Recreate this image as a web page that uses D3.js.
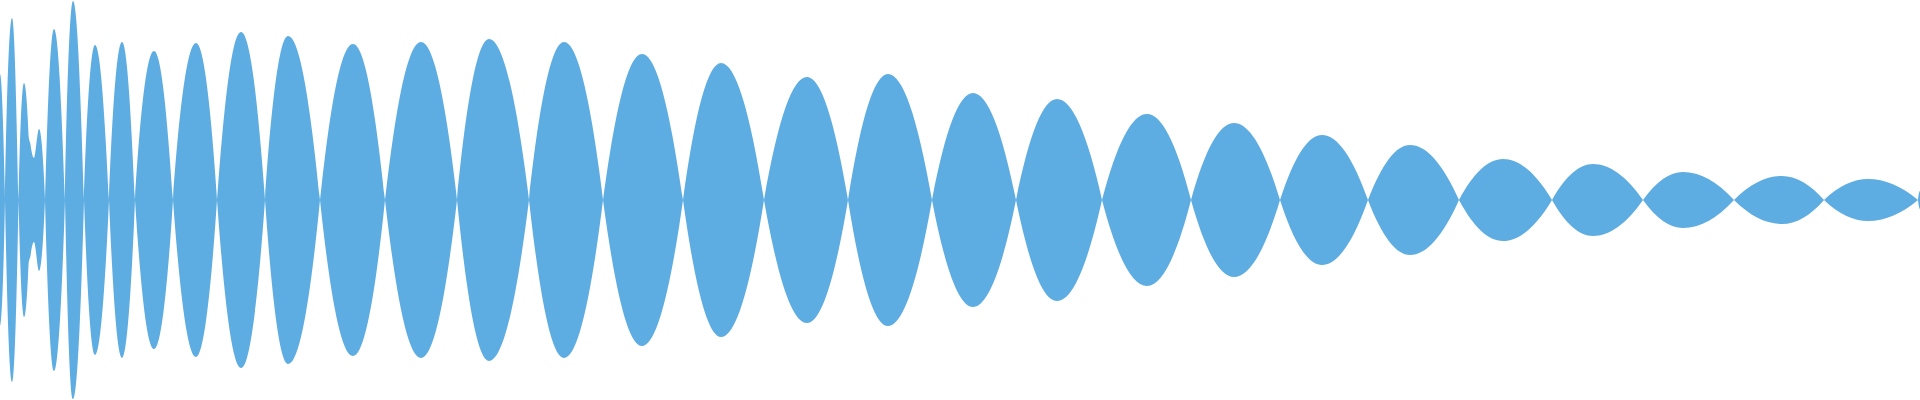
<!DOCTYPE html>
<html>
<head>
<meta charset="utf-8">
<script src="https://cdn.jsdelivr.net/npm/d3@7"></script>
<style>
  html, body { margin: 0; padding: 0; background: #fff; overflow: hidden; }
  .wave { fill: #5dade2; stroke: none; }
</style>
</head>
<body>
<div id="chart"></div>
<script>

// Sample positions along the track (zero crossings and lobe peaks)
var sampleTime = [0, 5, 12, 18.5, 24, 28.5, 31, 34, 39, 45, 54, 65, 73, 84, 95, 109, 122, 135, 154, 173, 196,
    217, 241, 265, 288, 320, 353, 385, 421, 457, 489, 529, 564, 603, 642, 683, 721, 764, 807, 848, 888,
    932, 973, 1016, 1057, 1102, 1147, 1191, 1234, 1280, 1322, 1368, 1410, 1459, 1503, 1552, 1593,
    1643, 1683, 1734, 1782, 1824, 1868, 1918, 1920];

// Amplitude at each sample (0 = zero crossing, polarity flips there)
var sampleAmp = [126, 0, 182, 0, 117, 65, 52, 42, 71, 0, 171, 0, 199, 0, 155, 0, 158, 0, 149, 0, 157,
    0, 168, 0, 164, 0, 156, 0, 158, 0, 161, 0, 158, 0, 146, 0, 137, 0, 123, 0, 126,
    0, 107, 0, 101, 0, 86, 0, 77, 0, 65, 0, 55, 0, 41, 0, 36,
    0, 28, 0, 24, 0, 21, 0, 9];

var width = 1920,
    height = 400;

// build signed samples: polarity flips at every zero crossing
var data = [];
var sign = 1;
sampleTime.forEach(function(t, i) {
    var a = sampleAmp[i];
    data.push({ t: t, v: sign * a });
    if (a === 0) sign = -sign;
});

/*
 * Lens curve - custom d3 curve factory
 * flat tangents at peaks / troughs, doubled secant on each side of a
 * zero crossing, so every lobe comes out as a pointed lens
 */
function LensCurve(context) { this._context = context; }

LensCurve.prototype = {
    areaStart: function() { this._line = 0; },
    areaEnd: function() { this._line = NaN; },
    lineStart: function() { this._x = []; this._y = []; },
    point: function(x, y) { this._x.push(+x); this._y.push(+y); },
    lineEnd: function() {
        var x = this._x, y = this._y, n = x.length, ctx = this._context;
        if (n) {
            this._line ? ctx.lineTo(x[0], y[0]) : ctx.moveTo(x[0], y[0]);

            var mL = [], mR = [];
            for (var i = 0; i < n; i++) {
                var sL = i > 0 ? (y[i] - y[i - 1]) / (x[i] - x[i - 1]) : null;
                var sR = i < n - 1 ? (y[i + 1] - y[i]) / (x[i + 1] - x[i]) : null;
                if (sL === null || sR === null || sL * sR <= 0) {
                    mL[i] = mR[i] = 0;
                } else {
                    mL[i] = 2 * sL;
                    mR[i] = 2 * sR;
                }
            }

            for (var j = 0; j < n - 1; j++) {
                var h = (x[j + 1] - x[j]) / 3;
                ctx.bezierCurveTo(x[j] + h, y[j] + mR[j] * h,
                    x[j + 1] - h, y[j + 1] - mL[j + 1] * h,
                    x[j + 1], y[j + 1]);
            }
        }
        if (this._line || (this._line !== 0 && n === 1)) ctx.closePath();
        this._line = 1 - this._line;
        this._x = this._y = null;
    }
};

function curveLens(context) { return new LensCurve(context); }

var svg = d3.select("#chart").append("svg")
    .attr("width", width)
    .attr("height", height);

var x = d3.scaleLinear()
    .domain([0, 1920])
    .range([0, width]);

var y = d3.scaleLinear()
    .domain([-200, 200])
    .range([height, 0]);

// mirrored area: signal and its negative
var area = d3.area()
    .curve(curveLens)
    .x(function(d) { return x(d.t); })
    .y0(function(d) { return y(-d.v); })
    .y1(function(d) { return y(d.v); });

svg.append("path")
    .datum(data)
    .attr("class", "wave")
    .attr("d", area);

</script>
</body>
</html>
